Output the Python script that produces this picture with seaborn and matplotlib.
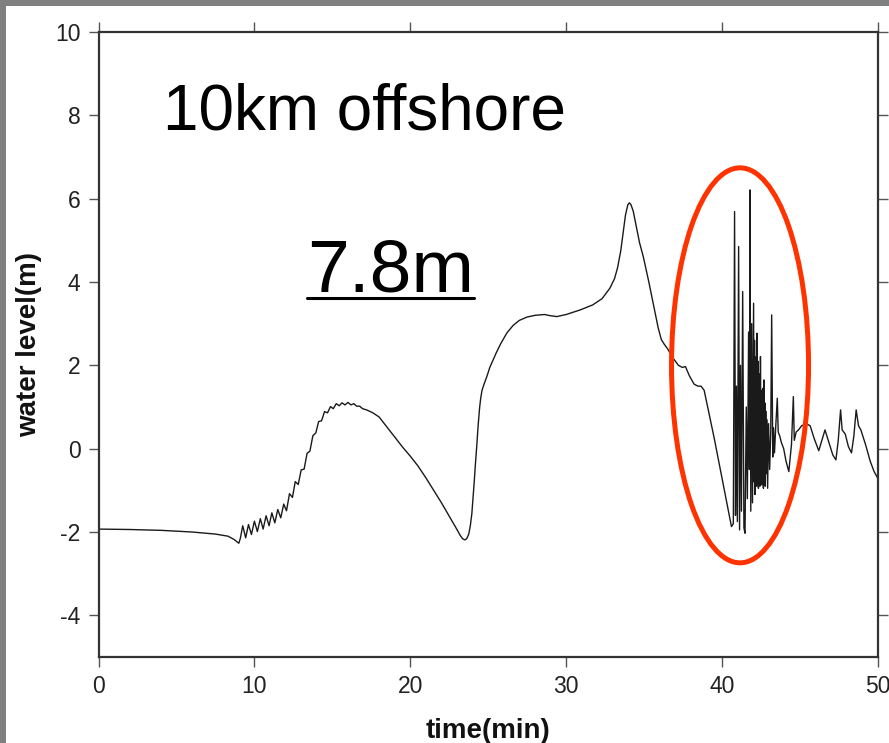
import matplotlib
matplotlib.use("Agg")
import matplotlib.pyplot as plt
import matplotlib.patches as mpatches
from matplotlib.lines import Line2D
import seaborn as sns
import pandas as pd

# ---- data ----
time_min = [
    0.0, 2.0, 4.0, 6.0, 7.5, 8.3, 8.7, 9.0, 9.1,
    9.25, 9.44, 9.62, 9.81, 10.0, 10.19, 10.38, 10.56, 10.75, 10.94,
    11.12, 11.31, 11.5, 11.69, 11.88, 12.06, 12.25, 12.44, 12.62, 12.81,
    13.0, 13.19, 13.38, 13.56, 13.75, 13.94, 14.12, 14.31, 14.5, 14.69,
    14.88, 15.06, 15.25, 15.44, 15.62, 15.81, 16.0, 16.19, 16.38, 16.56,
    16.75, 16.94,
    17.2, 17.6, 18.0, 18.5, 19.0, 19.5, 20.0, 20.5, 21.0, 21.5, 22.0,
    22.5, 22.9, 23.2, 23.35, 23.5, 23.62, 23.75, 23.85, 23.95, 24.02,
    24.1, 24.18, 24.26, 24.35, 24.45, 24.52, 24.6, 24.75, 24.9, 25.1,
    25.5, 25.8, 26.2, 26.6, 27.0, 27.5, 28.0, 28.6, 29.0, 29.4, 30.0,
    30.9, 31.7, 32.3, 32.8, 33.1, 33.3, 33.5, 33.65, 33.8, 33.95, 34.05,
    34.15, 34.3, 34.5, 34.7, 34.95, 35.3, 35.6, 35.9, 36.1, 36.3, 36.5,
    36.9, 37.2, 37.45, 37.65, 37.9, 38.2, 38.45, 38.65, 38.85, 39.5,
    40.0,
    40.6, 40.72, 40.8, 40.86, 40.92, 40.98, 41.06, 41.12, 41.18, 41.24,
    41.32, 41.4, 41.47, 41.55, 41.62, 41.7, 41.75, 41.79, 41.84, 41.9,
    41.95, 42.02, 42.05, 42.08, 42.11, 42.13, 42.16, 42.18, 42.21, 42.24,
    42.27, 42.3, 42.33, 42.35, 42.38, 42.4, 42.43, 42.46, 42.49, 42.52,
    42.55, 42.57, 42.6, 42.62, 42.65, 42.68, 42.71, 42.74, 42.77, 42.8,
    42.83, 42.86, 42.92, 42.98, 43.05, 43.12, 43.18, 43.25, 43.3, 43.36,
    43.45, 43.54, 43.6, 43.7, 43.8, 43.95, 44.1, 44.28, 44.45, 44.57,
    44.63, 44.75, 44.9, 45.1, 45.4, 45.65, 45.9, 46.2, 46.4, 46.6,
    46.85, 47.1, 47.3, 47.45, 47.6, 47.7, 47.9, 48.1, 48.3, 48.45,
    48.6, 48.75, 48.9, 49.2, 49.5, 49.75, 50.0,
]
water_level_m = [
    -1.93, -1.94, -1.96, -2.00, -2.05, -2.10, -2.18, -2.27, -2.15,
    -1.85, -2.14, -1.82, -2.06, -1.74, -1.99, -1.68, -1.93, -1.61, -1.85,
    -1.54, -1.78, -1.46, -1.66, -1.33, -1.49, -1.08, -1.17, -0.79, -0.86,
    -0.51, -0.49, -0.11, -0.06, 0.31, 0.38, 0.65, 0.67, 0.89, 0.86,
    1.01, 0.96, 1.08, 1.03, 1.10, 1.05, 1.11, 1.05, 1.08, 1.02,
    1.02, 0.96,
    0.93, 0.86, 0.76, 0.52, 0.28, 0.04, -0.18, -0.42, -0.70, -1.00, -1.30,
    -1.62, -1.88, -2.08, -2.16, -2.19, -2.16, -2.05, -1.85, -1.55, -1.20,
    -0.80, -0.35, 0.05, 0.55, 1.00, 1.22, 1.40, 1.57, 1.72, 1.95,
    2.29, 2.52, 2.78, 2.96, 3.08, 3.16, 3.20, 3.22, 3.19, 3.17, 3.22,
    3.33, 3.45, 3.60, 3.85, 4.08, 4.35, 4.75, 5.18, 5.60, 5.85, 5.90,
    5.86, 5.70, 5.32, 4.95, 4.60, 4.00, 3.45, 2.90, 2.62, 2.50, 2.40,
    2.15, 2.00, 1.95, 1.97, 1.75, 1.55, 1.50, 1.50, 1.40, 0.24,
    -0.72,
    -1.87, -1.80, 5.69, -1.60, 1.50, -1.75, 4.85, -1.95, 2.00, -1.50,
    3.77, -1.90, -2.03, 1.00, -1.20, 2.80, -0.50, 6.21, -1.50, 3.00,
    -1.30, 3.49, -0.80, 2.60, -1.10, 2.20, -0.70, 1.90, -0.90, 2.77,
    -0.40, 2.10, -0.95, 1.80, -0.50, 1.60, -0.90, 2.21, -0.30, 1.40,
    -0.87, 1.20, -0.40, 1.45, -0.95, 1.65, -0.20, 1.10, -0.90, 0.90,
    -0.60, 0.70, -0.95, 0.60, -0.50, 0.40, 3.21, -0.20, 0.50, -0.10,
    0.60, 1.21, 0.40, 0.30, 0.15, 0.00, -0.30, -0.55, 0.10, 1.25,
    0.20, 0.40, 0.45, 0.55, 0.60, 0.55, 0.25, -0.05, 0.20, 0.45,
    0.15, -0.15, -0.27, 0.20, 0.93, 0.45, 0.35, 0.05, -0.10, 0.30,
    0.93, 0.55, 0.45, 0.10, -0.30, -0.55, -0.72,
]
x_ticks = [0, 10, 20, 30, 40, 50]
y_ticks = [-4, -2, 0, 2, 4, 6, 8, 10]
title_text = "10km offshore"
peak_text = "7.8m"
x_label = "time(min)"
y_label = "water level(m)"

df = pd.DataFrame({"time": time_min, "level": water_level_m})

sns.set_theme(style="ticks")
plt.rcParams["font.family"] = ["Liberation Sans", "DejaVu Sans"]

W, H = 889, 743
fig = plt.figure(figsize=(W / 100, H / 100), dpi=100)
fig.patch.set_facecolor("white")
ax = fig.add_axes([98.5 / W, 86 / H, 779.5 / W, 625 / H])

sns.lineplot(data=df, x="time", y="level", ax=ax, color="#1a1a1a",
             linewidth=1.0, estimator=None, sort=False)

ax.set_xlim(0, 50)
ax.set_ylim(-5, 10)
ax.set_xticks(x_ticks)
ax.set_yticks(y_ticks)
ax.set_xticklabels([str(v) for v in x_ticks])
ax.set_yticklabels([str(v) for v in y_ticks])
ax.tick_params(axis="both", which="both", direction="out", length=7,
               width=1.0, color="#555555", labelsize=16.5, labelcolor="#222222",
               top=True, right=True, pad=6)
for s in ax.spines.values():
    s.set_visible(True)
    s.set_linewidth(1.6)
    s.set_color("#333333")

ax.set_xlabel(x_label, fontsize=20, fontweight="bold", color="#111111")
ax.set_ylabel(y_label, fontsize=20, fontweight="bold", color="#111111")
ax.xaxis.set_label_coords(0.5, -0.097)
ax.yaxis.set_label_coords(-0.072, 0.5)

# annotations
ax.text(4.14, 7.65, title_text, fontsize=46, color="black", va="baseline",
        ha="left")
pt = ax.text(13.37, 3.76, peak_text, fontsize=54, color="black",
             va="baseline", ha="left")

# red ellipse
ell = mpatches.Ellipse((41.15, 2.0), width=8.79, height=9.48, fill=False,
                       edgecolor="#ff3300", linewidth=3.6, zorder=5)
ax.add_patch(ell)

# underline for "7.8m"
fig.canvas.draw()
r = fig.canvas.get_renderer()
bb = pt.get_window_extent(renderer=r)
uy = H - 298
fig.add_artist(Line2D([bb.x0 / W, bb.x1 / W], [uy / H, uy / H],
                      transform=fig.transFigure, color="black", linewidth=2.2))

# gray frame strips of the screenshot
fig.add_artist(mpatches.Rectangle((0, 0), 6 / W, 1, transform=fig.transFigure,
                                  facecolor="#808080", edgecolor="none"))
fig.add_artist(mpatches.Rectangle((0, 1 - 5.5 / H), 1, 5.5 / H,
                                  transform=fig.transFigure,
                                  facecolor="#808080", edgecolor="none"))

fig.savefig("out.png", dpi=100)
